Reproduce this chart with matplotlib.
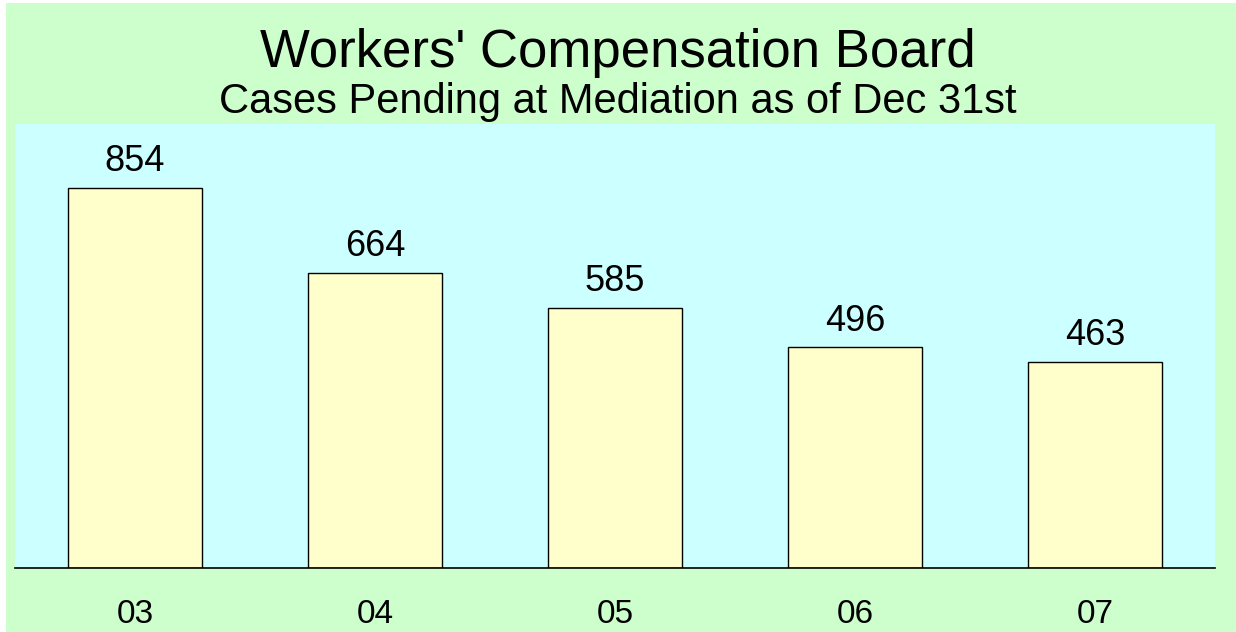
import matplotlib.pyplot as plt
from matplotlib.patches import Rectangle

# --- data ---
years = ['03', '04', '05', '06', '07']
pending = [854, 664, 585, 496, 463]

TITLE = "Workers' Compensation Board"
SUBTITLE = "Cases Pending at Mediation as of Dec 31st"

plt.rcParams['font.family'] = ['Liberation Sans', 'DejaVu Sans']

W, H = 1236, 632
fig = plt.figure(figsize=(W / 100, H / 100), dpi=100, facecolor='#CCFFCC')

# thin white strip on the left / top edge like the original export
fig.patches.append(Rectangle((0, 0), 6 / W, 1, transform=fig.transFigure,
                             facecolor='white', edgecolor='none', zorder=0))
fig.patches.append(Rectangle((0, 1 - 3 / H), 1, 3 / H, transform=fig.transFigure,
                             facecolor='white', edgecolor='none', zorder=0))

ax = fig.add_axes([15 / W, (H - 568) / H, 1200 / W, 444 / H])
ax.set_facecolor('#CCFFFF')

x = list(range(len(years)))
bars = ax.bar(x, pending, width=0.557, color='#FFFFCC', edgecolor='black', linewidth=1)

for b, v in zip(bars, pending):
    ax.annotate(str(v), (b.get_x() + b.get_width() / 2, v), xytext=(0, 12),
                textcoords='offset points', ha='center', va='baseline', fontsize=26)

ax.set_xlim(-0.5, len(years) - 0.5)
ax.set_ylim(0, 998)
ax.set_xticks(x)
ax.set_xticklabels(years, fontsize=24)
ax.tick_params(axis='x', length=0, pad=22.5)
ax.set_yticks([])
for s in ['left', 'right', 'top']:
    ax.spines[s].set_visible(False)
ax.spines['bottom'].set_linewidth(1.2)

fig.text(0.5, 1 - 67 / H, TITLE, ha='center', va='baseline', fontsize=38)
fig.text(0.5, 1 - 113 / H, SUBTITLE, ha='center', va='baseline', fontsize=30)

fig.savefig('out.png', dpi=100, facecolor=fig.get_facecolor())
